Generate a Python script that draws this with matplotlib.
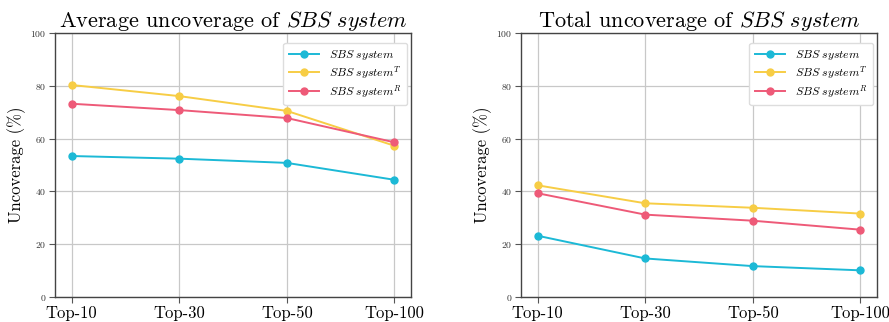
import matplotlib
matplotlib.use('Agg')
import matplotlib.pyplot as plt

plt.rcParams['font.family'] = 'serif'
plt.rcParams['font.serif'] = ['cmr10', 'DejaVu Serif']
plt.rcParams['mathtext.fontset'] = 'cm'
plt.rcParams['axes.unicode_minus'] = False
plt.rcParams['axes.formatter.use_mathtext'] = True

# x categories
cats = ['Top-10', 'Top-30', 'Top-50', 'Top-100']

# average uncoverage (%)
avg_sbs = [53.4, 52.4, 50.8, 44.4]
avg_sbs_t = [80.3, 76.1, 70.5, 57.3]
avg_sbs_r = [73.2, 70.8, 67.8, 58.6]

# total uncoverage (%)
tot_sbs = [23.2, 14.6, 11.7, 10.1]
tot_sbs_t = [42.3, 35.5, 33.8, 31.6]
tot_sbs_r = [39.3, 31.2, 28.9, 25.5]

labels = [r'$SBS\ system$', r'$SBS\ system^T$', r'$SBS\ system^R$']
colors = ['#1cb9d6', '#f7cd45', '#ee5a78']

fig = plt.figure(figsize=(8.89, 3.22), dpi=100)
ax1 = fig.add_axes([55/889, 25/322, 356/889, 264/322])
ax2 = fig.add_axes([521/889, 25/322, 356/889, 264/322])

panels = [
    (ax1, 'Average uncoverage of $SBS\\ system$', [avg_sbs, avg_sbs_t, avg_sbs_r]),
    (ax2, 'Total uncoverage of $SBS\\ system$', [tot_sbs, tot_sbs_t, tot_sbs_r]),
]

for ax, title, series in panels:
    x = range(len(cats))
    for vals, lab, c in zip(series, labels, colors):
        ax.plot(x, vals, color=c, marker='o', markersize=5, linewidth=1.4, label=lab)
    ax.set_xlim(-0.155, 3.155)
    ax.set_ylim(0, 100)
    ax.set_xticks(list(x))
    ax.set_xticklabels(cats, fontsize=12)
    ax.set_yticks([0, 20, 40, 60, 80, 100])
    ax.tick_params(axis='y', labelsize=7, length=4, pad=2, color='#555555',
                   labelcolor='#333333')
    ax.tick_params(axis='x', length=4, pad=2, color='#555555')
    ax.grid(color='#c8c8c8', linewidth=0.9)
    ax.set_axisbelow(True)
    for s in ax.spines.values():
        s.set_color('#444444')
        s.set_linewidth(1.0)
    ax.set_ylabel('Uncoverage (%)', fontsize=12, labelpad=3)
    ax.set_title(title, fontsize=16, pad=3)
    leg = ax.legend(loc='upper right', fontsize=8.5, framealpha=1,
                    edgecolor='#dddddd', borderpad=0.45, labelspacing=0.15,
                    handlelength=2.6, bbox_to_anchor=(1.005, 0.985))

fig.savefig('out.png', dpi=100)
